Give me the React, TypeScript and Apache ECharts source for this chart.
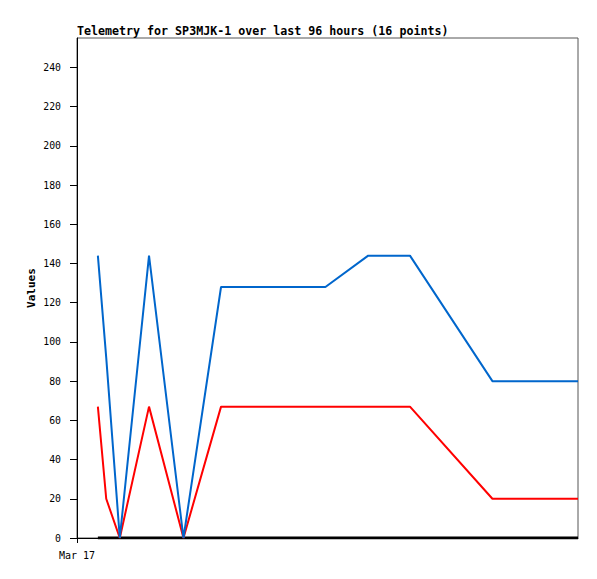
import React, { useEffect, useRef } from "react";
import * as echarts from "echarts";

const TITLE = "Telemetry for SP3MJK-1 over last 96 hours (16 points)";
const Y_NAME = "Values";
const X_LABEL = "Mar 17";
// hours since Mar 17 00:00
const hours = [1.0, 1.4, 2.05, 3.45, 5.1, 6.9, 8.6, 10.25, 11.9, 13.95, 14.95, 15.95, 19.9, 21.25, 22.6, 24];
const blueValues = [144, 92, 0, 144, 0, 128, 128, 128, 128, 144, 144, 144, 80, 80, 80, 80];
const redValues = [67, 20, 0, 67, 0, 67, 67, 67, 67, 67, 67, 67, 20, 20, 20, 20];
const blackValues = [0, 0, 0, 0, 0, 0, 0, 0, 0, 0, 0, 0, 0, 0, 0, 0];
const yTicks = [0, 20, 40, 60, 80, 100, 120, 140, 160, 180, 200, 220, 240];

const FONT = "DejaVu Sans Mono";

export default function App() {
  const ref = useRef<HTMLDivElement>(null);
  useEffect(() => {
    if (!ref.current) return;
    const chart = echarts.init(ref.current, null, { renderer: "svg" });
    const pair = (vals: number[]) => hours.map((h, i) => [h, vals[i]]);
    chart.setOption({
      animation: false,
      title: {
        text: TITLE,
        left: 77,
        top: 25,
        padding: 0,
        textStyle: { fontFamily: FONT, fontWeight: "bold", fontSize: 11.65, color: "#000" },
      },
      grid: {
        left: 77,
        top: 38,
        right: 19,
        bottom: 41,
        show: true,
        borderColor: "#555",
        borderWidth: 1,
        backgroundColor: "#fff",
      },
      xAxis: {
        type: "value",
        min: 0,
        max: 24,
        axisLine: { show: true, onZero: false, lineStyle: { color: "#000", width: 1 } },
        axisTick: { show: true, length: 5, customValues: [0], lineStyle: { color: "#000" } },
        axisLabel: {
          show: true,
          customValues: [0],
          margin: 12,
          formatter: () => X_LABEL,
          fontFamily: FONT,
          fontSize: 10,
          color: "#000",
        },
        splitLine: { show: false },
      },
      yAxis: {
        type: "value",
        min: 0,
        max: 255,
        interval: 20,
        name: Y_NAME,
        nameLocation: "middle",
        nameRotate: 90,
        nameGap: 40,
        nameMoveOverlap: false,
        nameTextStyle: { fontFamily: FONT, fontWeight: "bold", fontSize: 11, color: "#000" },
        axisLine: { show: true, lineStyle: { color: "#000", width: 1 } },
        axisTick: { show: true, length: 7, customValues: yTicks, lineStyle: { color: "#000" } },
        axisLabel: {
          customValues: yTicks,
          margin: 16,
          fontFamily: FONT,
          fontSize: 9.8,
          color: "#000",
        },
        splitLine: { show: false },
      },
      series: [
        {
          type: "line",
          data: pair(blackValues),
          showSymbol: false,
          lineStyle: { color: "#000", width: 3 },
          z: 3,
        },
        {
          type: "line",
          data: pair(redValues),
          showSymbol: false,
          lineStyle: { color: "#ff0000", width: 2 },
          z: 4,
        },
        {
          type: "line",
          data: pair(blueValues),
          showSymbol: false,
          lineStyle: { color: "#0066cc", width: 2 },
          z: 5,
        },
      ],
    });
    return () => chart.dispose();
  }, []);
  return <div ref={ref} style={{ width: 597, height: 579, position: "absolute", left: 0, top: 0 }} />;
}
